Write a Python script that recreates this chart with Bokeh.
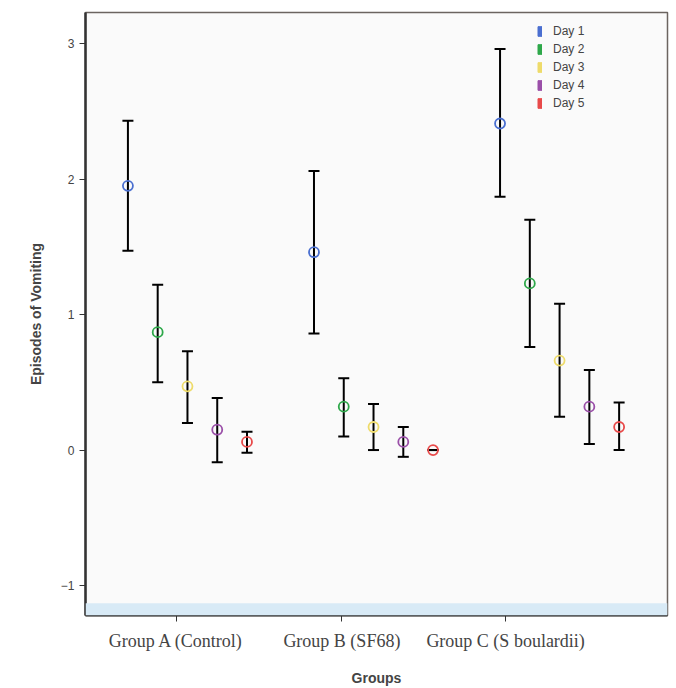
from bokeh.plotting import figure
from bokeh.models import (ColumnDataSource, Whisker, TeeHead, Legend, LegendItem,
                          FixedTicker, Range1d, BoxAnnotation)
from bokeh.embed import file_html
from bokeh.resources import INLINE

groups = ["Group A (Control)", "Group B (SF68)", "Group C (S boulardii)"]
days = ["Day 1", "Day 2", "Day 3", "Day 4", "Day 5"]
day_colors = ["#4a6fd0", "#2ea84a", "#eedb6a", "#9a4fa8", "#e84a4a"]

# mean, upper, lower per group (rows: day 1..5)
mean_a = [1.95, 0.87, 0.47, 0.15, 0.06]
upper_a = [2.43, 1.22, 0.73, 0.385, 0.135]
lower_a = [1.47, 0.50, 0.20, -0.09, -0.02]

mean_b = [1.46, 0.32, 0.17, 0.06, 0.0]
upper_b = [2.06, 0.53, 0.34, 0.17, 0.0]
lower_b = [0.86, 0.10, 0.0, -0.05, 0.0]

mean_c = [2.41, 1.23, 0.66, 0.32, 0.17]
upper_c = [2.96, 1.70, 1.08, 0.59, 0.35]
lower_c = [1.87, 0.76, 0.245, 0.045, 0.0]

group_index = [0, 1, 2]
day_step = 0.16          # dodge between days within a group
group_tick_pos = [-0.06, 0.83, 1.71]
y_ticks = [-1, 0, 1, 2, 3]

means = [mean_a, mean_b, mean_c]
uppers = [upper_a, upper_b, upper_c]
lowers = [lower_a, lower_b, lower_c]

p = figure(width=670, height=688, output_backend="svg", toolbar_location=None,
           x_range=Range1d(-0.548, 2.58), y_range=Range1d(-1.221, 3.229),
           min_border_left=85, min_border_right=3, min_border_top=12, min_border_bottom=73,
           background_fill_color="#fafafa", border_fill_color="white")
p.outline_line_color = "#6b6460"
p.outline_line_width = 1.5
p.xgrid.visible = False
p.ygrid.visible = False

p.add_layout(BoxAnnotation(top=-1.13, fill_color="#d8eaf6", fill_alpha=1.0, line_alpha=0))

legend_items = []
for d in range(5):
    xs, ms, us, ls = [], [], [], []
    for g in group_index:
        xs.append(g + (d - 2) * day_step)
        ms.append(means[g][d])
        us.append(uppers[g][d])
        ls.append(lowers[g][d])
    src = ColumnDataSource(dict(x=xs, mean=ms, upper=us, lower=ls))
    w = Whisker(base="x", upper="upper", lower="lower", source=src,
                line_color="black", line_width=2,
                upper_head=TeeHead(size=11, line_color="black", line_width=2),
                lower_head=TeeHead(size=11, line_color="black", line_width=2))
    p.add_layout(w)
    p.scatter("x", "mean", source=src, marker="circle", size=10,
              fill_color=None, line_color=day_colors[d], line_width=1.8)
    lg = p.vbar(x=[float("nan")], top=[float("nan")], width=0.01,
                fill_color=day_colors[d], line_color=day_colors[d], line_width=1)
    legend_items.append(LegendItem(label=days[d], renderers=[lg]))

legend = Legend(items=legend_items, location=(452, 505),
                background_fill_alpha=0, border_line_alpha=0,
                label_text_font="Liberation Sans", label_text_font_size="12px",
                glyph_width=5, glyph_height=12, label_height=15, spacing=3,
                padding=0, margin=0, label_standoff=11)
p.add_layout(legend)

p.yaxis.ticker = FixedTicker(ticks=y_ticks)
p.yaxis.axis_label = "Episodes of Vomiting"
p.yaxis.axis_label_text_font = "Liberation Sans"
p.yaxis.axis_label_text_font_style = "bold"
p.yaxis.axis_label_text_font_size = "14px"
p.yaxis.major_label_text_font = "Liberation Sans"
p.yaxis.major_label_text_font_size = "12px"
p.yaxis.axis_line_width = 2.5
p.yaxis.axis_line_color = "#333333"
p.yaxis.major_tick_out = 6
p.yaxis.major_tick_in = 0
p.yaxis.minor_tick_line_color = None
p.yaxis.major_tick_line_color = "#333333"
p.yaxis.axis_label_standoff = 14

p.xaxis.ticker = FixedTicker(ticks=group_tick_pos)
p.xaxis.major_label_overrides = {t: g for t, g in zip(group_tick_pos, groups)}
p.xaxis.axis_label = "Groups"
p.xaxis.axis_label_text_font = "Liberation Sans"
p.xaxis.axis_label_text_font_style = "bold"
p.xaxis.axis_label_text_font_size = "14px"
p.xaxis.major_label_text_font = "Liberation Serif"
p.xaxis.major_label_text_font_size = "18px"
p.xaxis.axis_line_width = 2
p.xaxis.axis_line_color = "#333333"
p.xaxis.major_tick_out = 6
p.xaxis.major_tick_in = 0
p.xaxis.minor_tick_line_color = None
p.xaxis.major_tick_line_color = "#333333"
p.xaxis.major_label_standoff = 9
p.xaxis.axis_label_standoff = 16

open("out.html", "w").write(file_html(p, INLINE))
